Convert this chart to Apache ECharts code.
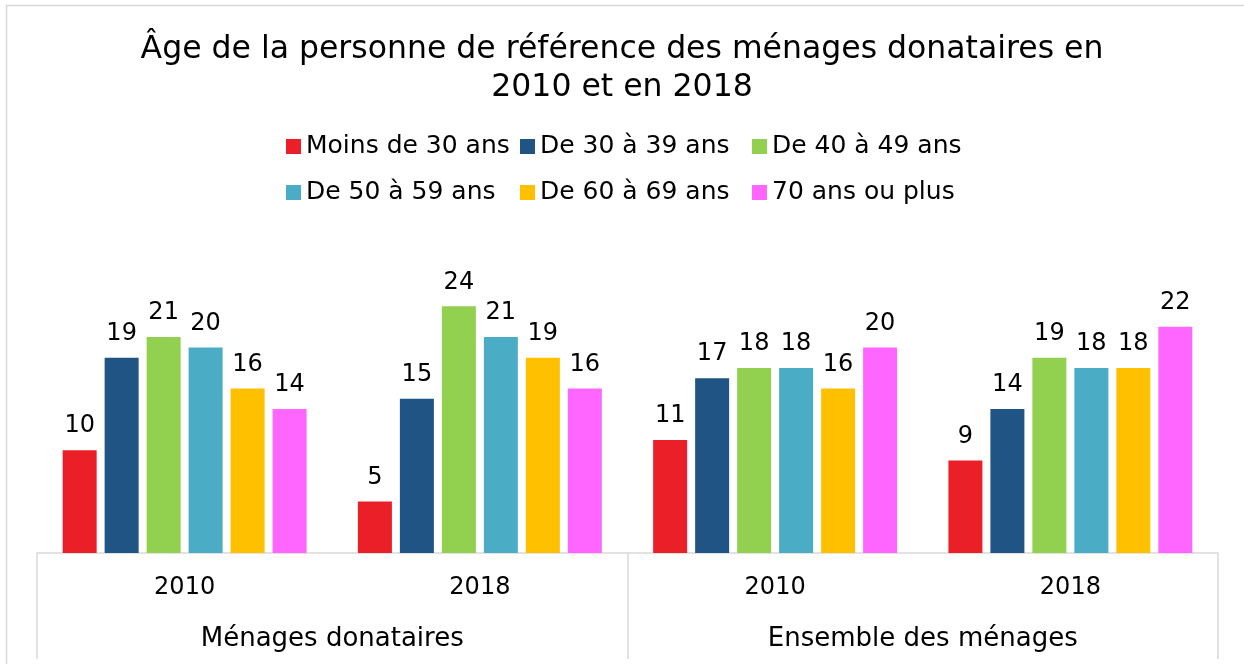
<!DOCTYPE html>
<html>
<head>
<meta charset="utf-8">
<script src="https://cdn.jsdelivr.net/npm/echarts@6/dist/echarts.min.js"></script>
<style>
html,body{margin:0;padding:0;background:#fff;}
#c{width:1244px;height:664px;}
</style>
</head>
<body>
<div id="c"></div>
<script>
const titleText = "Âge de la personne de référence des ménages donataires en\n2010 et en 2018";
const years = ["2010", "2018", "2010", "2018"];
const groups = ["Ménages donataires", "Ensemble des ménages"];
const seriesNames = ["Moins de 30 ans", "De 30 à 39 ans", "De 40 à 49 ans", "De 50 à 59 ans", "De 60 à 69 ans", "70 ans ou plus"];
const colors = ["#EA1F27", "#1F5484", "#92D050", "#4BACC6", "#FFC000", "#FF66FF"];
const moins30 = [10, 5, 11, 9];
const de30a39 = [19, 15, 17, 14];
const de40a49 = [21, 24, 18, 19];
const de50a59 = [20, 21, 18, 18];
const de60a69 = [16, 19, 16, 18];
const plus70 = [14, 16, 20, 22];
const values = [moins30, de30a39, de40a49, de50a59, de60a69, plus70];

const FONT = "DejaVu Sans";
const chart = echarts.init(document.getElementById('c'));

const legendPos = [[286,134],[520,134],[752,134],[286,180],[520,180],[752,180]];
const legends = seriesNames.map((n, i) => ({
  data: [n],
  left: legendPos[i][0],
  top: legendPos[i][1],
  icon: 'rect',
  itemWidth: 15,
  itemHeight: 15,
  itemGap: 0,
  textStyle: {fontFamily: FONT, fontSize: 25, color: '#000', padding: [0,0,0,0]},
  padding: 0,
  selectedMode: false
}));

chart.setOption({
  animation: false,
  backgroundColor: '#fff',
  graphic: [{
    type: 'rect', shape: {x: 6.5, y: 5.5, width: 1300, height: 800},
    style: {fill: 'none', stroke: '#d9d9d9', lineWidth: 1.5}, z: -1
  }],
  title: {
    text: titleText,
    left: 'center',
    top: 26,
    textStyle: {fontFamily: FONT, fontSize: 31.5, fontWeight: 'normal', color: '#000', lineHeight: 38}
  },
  legend: legends,
  grid: {left: 37, right: 26, top: 296, bottom: 111, containLabel: false},
  xAxis: [{
    type: 'category',
    data: years,
    position: 'bottom',
    axisLine: {show: true, lineStyle: {color: '#d9d9d9', width: 1.5}},
    axisTick: {show: false},
    axisLabel: {fontFamily: FONT, fontSize: 24, color: '#000', margin: 23}
  }, {
    type: 'category',
    data: groups,
    position: 'bottom',
    axisLine: {show: false},
    axisTick: {show: true, length: 106, lineStyle: {color: '#d9d9d9', width: 1.5}},
    axisLabel: {fontFamily: FONT, fontSize: 26, color: '#000', margin: 73}
  }],
  yAxis: {type: 'value', min: 0, max: 25, show: false, splitLine: {show: false}},
  series: seriesNames.map((n, i) => ({
    name: n,
    type: 'bar',
    xAxisIndex: 0,
    data: values[i],
    barWidth: 34,
    barGap: '23.5%',
    itemStyle: {color: colors[i]},
    label: {show: true, position: 'top', distance: 12, fontFamily: FONT, fontSize: 24, color: '#000'}
  }))
});
</script>
</body>
</html>
